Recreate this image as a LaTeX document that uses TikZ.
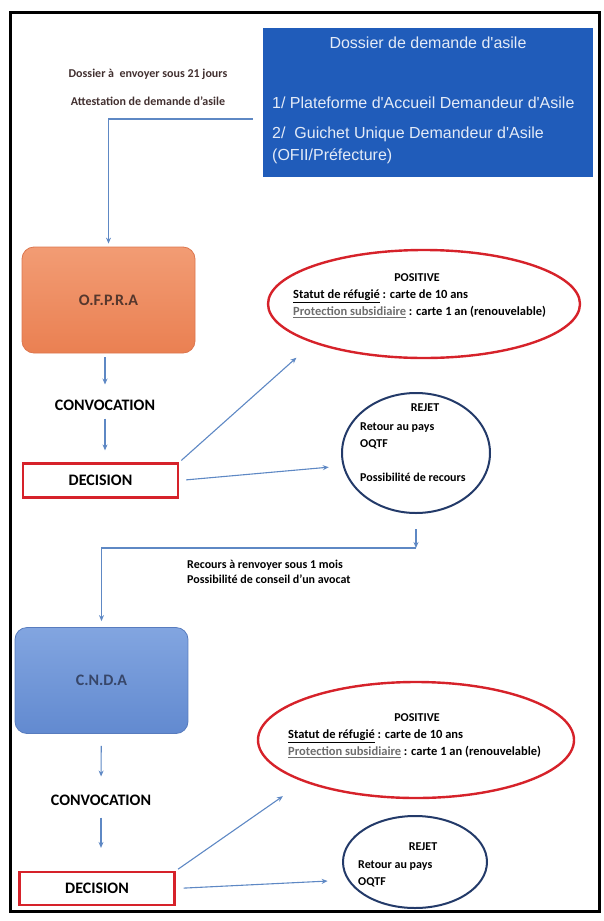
\documentclass[tikz,border=0pt]{standalone}
\usepackage{fontspec}
\setmainfont{Carlito}
\newfontfamily\arialfont{Liberation Sans}
\usetikzlibrary{shapes.geometric, arrows.meta, positioning, calc}

\definecolor{dossierblue}{RGB}{32,92,186}
\definecolor{dossiertext}{RGB}{228,235,247}
\definecolor{flowblue}{RGB}{94,136,196}
\definecolor{verdictred}{RGB}{214,34,42}
\definecolor{rejetblue}{RGB}{35,58,105}
\definecolor{notebrown}{RGB}{66,48,48}
\definecolor{subgray}{RGB}{110,110,110}
\definecolor{ofpratop}{RGB}{242,156,116}
\definecolor{ofprabottom}{RGB}{234,128,82}
\definecolor{ofpraedge}{RGB}{220,118,78}
\definecolor{ofpratext}{RGB}{85,55,45}
\definecolor{cndatop}{RGB}{130,165,224}
\definecolor{cndabottom}{RGB}{98,138,208}
\definecolor{cndaedge}{RGB}{88,124,190}
\definecolor{cndatext}{RGB}{55,70,105}

\begin{document}
\begin{tikzpicture}[x=1pt, y=-1pt]
    \tikzstyle{office} = [rectangle, rounded corners=12pt, minimum width=173pt, minimum height=106pt, line width=0.8pt, font=\fontsize{16}{19}\selectfont\bfseries]
    \tikzstyle{stage} = [inner sep=3pt, font=\fontsize{16}{19}\selectfont\bfseries]
    \tikzstyle{verdict} = [rectangle, draw=verdictred, line width=2.2pt, minimum width=155pt, minimum height=34pt, font=\fontsize{16}{19}\selectfont\bfseries]
    \tikzstyle{outcome} = [ellipse, inner sep=0pt, line width=2pt]
    \tikzstyle{note} = [inner sep=0pt, font=\fontsize{12}{17}\selectfont\bfseries]
    \tikzstyle{arrow} = [draw=flowblue, line width=1.1pt, -{Stealth[length=6pt, width=5pt]}]

    \useasboundingbox (0,0) rectangle (603,921);
    \draw[line width=3pt] (10,12) rectangle (599,911);

    \node[rectangle, fill=dossierblue, minimum width=330pt, minimum height=149pt, inner sep=0pt] (dossier) at (428,102.5) {};
    \node[text=dossiertext, font=\arialfont\fontsize{16}{22}\selectfont] (dossiertitle) at (428,43) {Dossier de demande d'asile};
    \node[text=dossiertext, font=\arialfont\fontsize{16}{22}\selectfont, align=left, anchor=north west, inner sep=0pt] (guichets) at (272,97) {1/ Plateforme d'Accueil Demandeur d'Asile\\[8pt]2/~ Guichet Unique Demandeur d'Asile\\(OFII/Préfecture)};

    \node[note, text=notebrown] (delai) at (148,74) {Dossier à~ envoyer sous 21 jours};
    \node[note, text=notebrown] (attest) at (148,101) {Attestation de demande d'asile};

    \node[office, top color=ofpratop, bottom color=ofprabottom, draw=ofpraedge, text=ofpratext] (ofpra) at (108.5,300) {O.F.P.R.A};
    \node[stage] (conv1) at (105,405) {CONVOCATION};
    \node[verdict] (decision1) at (100.5,480.5) {DECISION};

    \node[outcome, draw=verdictred, minimum width=312pt, minimum height=108pt, line width=2.4pt] (pos1) at (424,304) {};
    \node[note] (pos1title) at (417,278) {POSITIVE};
    \node[note, font=\fontsize{12.5}{17.5}\selectfont\bfseries, align=left, anchor=north west] (pos1text) at (293,289.5) {\underline{Statut de réfugié} : carte de 10 ans\\{\color{subgray}\underline{Protection subsidiaire}} : carte 1 an (renouvelable)};

    \node[outcome, draw=rejetblue, minimum width=148pt, minimum height=120pt] (rejet1) at (416,453) {};
    \node[note] (rejet1title) at (425,408) {REJET};
    \node[note, align=left, anchor=north west] (rejet1text) at (360,423) {Retour au pays\\OQTF\\[17pt]Possibilité de recours};

    \coordinate (bend) at (416,548);
    \node[note, font=\fontsize{12}{15}\selectfont\bfseries, align=left, anchor=north west] (recours) at (187,560) {Recours à renvoyer sous 1 mois\\Possibilité de conseil d'un avocat};

    \node[office, top color=cndatop, bottom color=cndabottom, draw=cndaedge, text=cndatext] (cnda) at (101.5,680.5) {C.N.D.A};
    \node[stage] (conv2) at (101,800) {CONVOCATION};
    \node[verdict, minimum height=33pt] (decision2) at (97,888.5) {DECISION};

    \node[outcome, draw=verdictred, minimum width=316pt, minimum height=116pt, line width=2.4pt] (pos2) at (416,740) {};
    \node[note] (pos2title) at (417,718) {POSITIVE};
    \node[note, font=\fontsize{12.5}{17.5}\selectfont\bfseries, align=left, anchor=north west] (pos2text) at (288,729.5) {\underline{Statut de réfugié} : carte de 10 ans\\{\color{subgray}\underline{Protection subsidiaire}} : carte 1 an (renouvelable)};

    \node[outcome, draw=rejetblue, minimum width=144pt, minimum height=92pt] (rejet2) at (415,862) {};
    \node[note] (rejet2title) at (423,847) {REJET};
    \node[note, align=left, anchor=north west] (rejet2text) at (358,861) {Retour au pays\\OQTF};

    \draw[arrow, shorten >=3pt] ([xshift=-10pt, yshift=-16.5pt]dossier.west) -| (ofpra.north);
    \draw[arrow, shorten <=4pt, shorten >=12pt] (conv1 |- ofpra.south) -- (conv1);
    \draw[arrow, shorten <=5pt, shorten >=12pt] (conv1) -- (conv1 |- decision1.north);
    \draw[arrow, shorten <=3pt, shorten >=22pt] (decision1.north east) -- (pos1.south west);
    \draw[arrow, shorten <=7pt, shorten >=14pt] (decision1.east) -- (rejet1.190);
    \draw[arrow, shorten <=15pt] (rejet1.south) -- (bend);
    \draw[arrow, shorten >=6pt] (bend) -| (cnda.north);
    \draw[arrow, shorten <=12pt, shorten >=15pt] (cnda) -- (conv2);
    \draw[arrow, shorten <=9pt, shorten >=23pt] (conv2) -- (conv2 |- decision2.north);
    \draw[arrow, shorten <=3pt, shorten >=25pt] (decision2.north east) -- (pos2.south west);
    \draw[arrow, shorten <=8pt, shorten >=20pt] (decision2.east) -- (rejet2.195);
\end{tikzpicture}
\end{document}
